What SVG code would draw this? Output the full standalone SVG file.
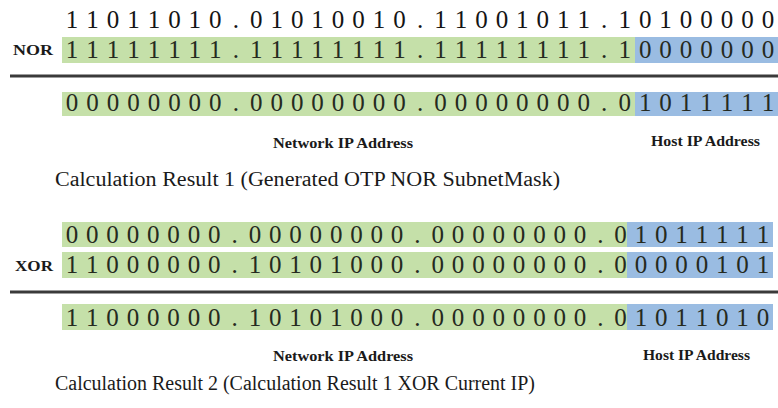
<svg xmlns="http://www.w3.org/2000/svg" width="778" height="408" viewBox="0 0 778 408">
  <style>
    .bits { font-family: "Liberation Serif", "Times New Roman", serif; font-size: 25px; text-anchor: middle; }
    .plain { fill: #141414; }
    .cell { fill: #252a1e; }
    .op { font-family: "Liberation Serif", "Times New Roman", serif; font-size: 15px; font-weight: bold; fill: #1a1a1a; }
    .tag { font-family: "Liberation Serif", "Times New Roman", serif; font-size: 14px; font-weight: bold; fill: #1a1a1a; }
    .caption { font-family: "Liberation Serif", "Palatino Linotype", serif; font-size: 20px; fill: #1a1a1a; }
    .net { fill: #c5e0a9; }
    .host { fill: #9abce2; }
    .rule { stroke: #3a3a3a; stroke-width: 3; fill: none; }
  </style>

  <!-- Calculation 1: current value NOR subnet mask -->
  <g id="calc1">
    <g id="calc1-operand">
      <text class="bits plain" y="28" x="72 92.5 112.9 133.4 153.9 174.4 194.8 215.3 235.8 256.2 276.7 297.2 317.6 338.1 358.6 379.1 399.5 420 440.5 460.9 481.4 501.9 522.3 542.8 563.3 583.8 604.2 624.7 645.2 665.6 686.1 706.6 727 747.5 768">11011010.01010010.11001011.10100000</text>
    </g>
    <g id="calc1-mask">
      <rect class="net" x="62" y="37" width="573" height="26"/>
      <rect class="host" x="635" y="37" width="143" height="26"/>
      <text class="op" x="13" y="55" textLength="40" lengthAdjust="spacingAndGlyphs">NOR</text>
      <text class="bits cell" y="58" x="72 92.5 112.9 133.4 153.9 174.4 194.8 215.3 235.8 256.2 276.7 297.2 317.6 338.1 358.6 379.1 399.5 420 440.5 460.9 481.4 501.9 522.3 542.8 563.3 583.8 604.2 624.7 645.2 665.6 686.1 706.6 727 747.5 768">11111111.11111111.11111111.10000000</text>
    </g>
    <path class="rule" d="M10 76 H778"/>
    <g id="calc1-result">
      <rect class="net" x="62" y="92" width="573" height="24"/>
      <rect class="host" x="635" y="92" width="143" height="24"/>
      <text class="bits cell" y="111" x="72 92.5 112.9 133.4 153.9 174.4 194.8 215.3 235.8 256.2 276.7 297.2 317.6 338.1 358.6 379.1 399.5 420 440.5 460.9 481.4 501.9 522.3 542.8 563.3 583.8 604.2 624.7 645.2 665.6 686.1 706.6 727 747.5 768">00000000.00000000.00000000.01011111</text>
    </g>
    <text class="tag" x="273" y="148" textLength="140" lengthAdjust="spacingAndGlyphs">Network IP Address</text>
    <text class="tag" x="651" y="146" textLength="109" lengthAdjust="spacingAndGlyphs">Host IP Address</text>
    <text class="caption" x="55" y="186" textLength="505" lengthAdjust="spacingAndGlyphs">Calculation Result 1 (Generated OTP NOR SubnetMask)</text>
  </g>

  <!-- Calculation 2: result 1 XOR current IP -->
  <g id="calc2">
    <g id="calc2-operand">
      <rect class="net" x="62" y="222" width="565" height="25"/>
      <rect class="host" x="627" y="222" width="146" height="25"/>
      <text class="bits cell" y="243" x="72 92.3 112.6 133 153.3 173.6 193.9 214.2 234.6 254.9 275.2 295.5 315.8 336.2 356.5 376.8 397.1 417.4 437.8 458.1 478.4 498.7 519 539.4 559.7 580 600.3 620.6 641 661.3 681.6 701.9 722.2 742.6 762.9">00000000.00000000.00000000.01011111</text>
    </g>
    <g id="calc2-current-ip">
      <rect class="net" x="62" y="252" width="565" height="26"/>
      <rect class="host" x="627" y="252" width="146" height="26"/>
      <text class="op" x="15" y="271" textLength="38" lengthAdjust="spacingAndGlyphs">XOR</text>
      <text class="bits cell" y="273" x="72 92.3 112.6 133 153.3 173.6 193.9 214.2 234.6 254.9 275.2 295.5 315.8 336.2 356.5 376.8 397.1 417.4 437.8 458.1 478.4 498.7 519 539.4 559.7 580 600.3 620.6 641 661.3 681.6 701.9 722.2 742.6 762.9">11000000.10101000.00000000.00000101</text>
    </g>
    <path class="rule" d="M10 292 H778"/>
    <g id="calc2-result">
      <rect class="net" x="62" y="304" width="565" height="26"/>
      <rect class="host" x="627" y="304" width="146" height="26"/>
      <text class="bits cell" y="326" x="72 92.3 112.6 133 153.3 173.6 193.9 214.2 234.6 254.9 275.2 295.5 315.8 336.2 356.5 376.8 397.1 417.4 437.8 458.1 478.4 498.7 519 539.4 559.7 580 600.3 620.6 641 661.3 681.6 701.9 722.2 742.6 762.9">11000000.10101000.00000000.01011010</text>
    </g>
    <text class="tag" x="273" y="361" textLength="140" lengthAdjust="spacingAndGlyphs">Network IP Address</text>
    <text class="tag" x="643" y="360" textLength="107" lengthAdjust="spacingAndGlyphs">Host IP Address</text>
    <text class="caption" x="55" y="390" textLength="480" lengthAdjust="spacingAndGlyphs">Calculation Result 2 (Calculation Result 1 XOR Current IP)</text>
  </g>
</svg>
